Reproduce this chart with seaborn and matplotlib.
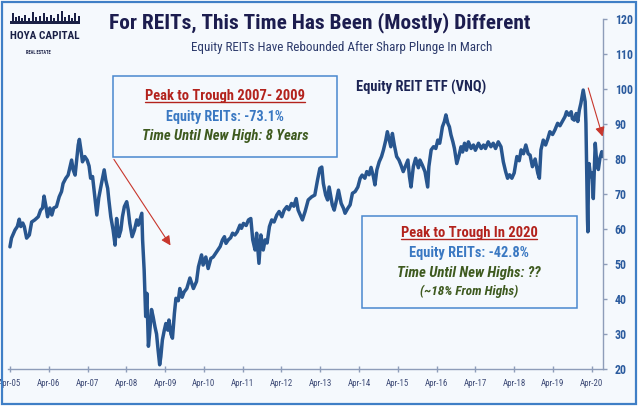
import numpy as np
import pandas as pd
import matplotlib
matplotlib.use("Agg")
import matplotlib.pyplot as plt
import seaborn as sns
from matplotlib import font_manager as fm
from matplotlib.patches import Rectangle
from matplotlib.lines import Line2D

# ---------------- data ----------------
years = [
    2005.25, 2005.29, 2005.38, 2005.44, 2005.49, 2005.53, 2005.58, 2005.62, 2005.68, 2005.75, 2005.81, 2005.89, 2005.98,
    2006.04, 2006.09, 2006.13, 2006.18, 2006.22, 2006.28, 2006.33, 2006.38, 2006.45, 2006.52, 2006.58, 2006.62, 2006.69,
    2006.75, 2006.80, 2006.84, 2006.88, 2006.93, 2006.97,
    2007.01, 2007.04, 2007.08, 2007.12, 2007.18, 2007.24, 2007.29, 2007.33, 2007.38, 2007.42, 2007.49, 2007.54, 2007.61,
    2007.68, 2007.72, 2007.77, 2007.80, 2007.85, 2007.91, 2007.96,
    2008.00, 2008.06, 2008.11, 2008.15, 2008.20, 2008.26, 2008.30, 2008.34, 2008.40, 2008.46, 2008.52, 2008.56, 2008.65,
    2008.67, 2008.71, 2008.73, 2008.75, 2008.78, 2008.82, 2008.85, 2008.90, 2008.94, 2008.99,
    2009.03, 2009.07, 2009.11, 2009.14, 2009.18, 2009.23, 2009.27, 2009.32, 2009.35, 2009.40, 2009.44, 2009.49, 2009.53,
    2009.59, 2009.63, 2009.69, 2009.74, 2009.81, 2009.89, 2009.98,
    2010.06, 2010.11, 2010.19, 2010.23, 2010.30, 2010.36, 2010.43, 2010.49, 2010.58, 2010.67, 2010.73, 2010.78, 2010.82,
    2010.88, 2010.94, 2010.99,
    2011.05, 2011.11, 2011.18, 2011.22, 2011.27, 2011.34, 2011.40, 2011.46, 2011.51, 2011.57, 2011.61, 2011.67, 2011.72,
    2011.78, 2011.83, 2011.88, 2011.94,
    2012.00, 2012.06, 2012.13, 2012.19, 2012.26, 2012.32, 2012.39, 2012.44, 2012.51, 2012.57, 2012.63, 2012.68, 2012.79,
    2012.86, 2012.94,
    2013.03, 2013.11, 2013.18, 2013.24, 2013.29, 2013.33, 2013.39, 2013.44, 2013.48, 2013.56, 2013.61, 2013.67, 2013.72,
    2013.79, 2013.85, 2013.89, 2013.96,
    2014.02, 2014.08, 2014.15, 2014.22, 2014.28, 2014.33, 2014.40, 2014.45, 2014.51, 2014.56, 2014.62, 2014.66, 2014.71,
    2014.77, 2014.83, 2014.88, 2014.94, 2014.98,
    2015.02, 2015.07, 2015.11, 2015.16, 2015.22, 2015.28, 2015.33, 2015.39, 2015.44, 2015.51, 2015.55, 2015.59, 2015.65,
    2015.71, 2015.78, 2015.82, 2015.88, 2015.95,
    2016.02, 2016.05, 2016.11, 2016.17, 2016.23, 2016.28, 2016.33, 2016.36, 2016.40, 2016.45, 2016.49, 2016.54, 2016.58,
    2016.62, 2016.67, 2016.71, 2016.77, 2016.83, 2016.88, 2016.92, 2016.97,
    2017.02, 2017.07, 2017.14, 2017.20, 2017.25, 2017.33, 2017.40, 2017.46, 2017.51, 2017.58, 2017.65, 2017.71, 2017.77,
    2017.84, 2017.91, 2017.97,
    2018.03, 2018.08, 2018.13, 2018.19, 2018.25, 2018.32, 2018.38, 2018.43, 2018.49, 2018.55, 2018.61, 2018.66, 2018.72,
    2018.79, 2018.86, 2018.90, 2018.94,
    2019.00, 2019.06, 2019.12, 2019.17, 2019.24, 2019.30, 2019.37, 2019.43, 2019.49, 2019.56, 2019.60, 2019.66, 2019.72,
    2019.75, 2019.80, 2019.85, 2019.89, 2019.93, 2019.97,
    2020.03, 2020.08, 2020.10, 2020.12, 2020.14, 2020.15, 2020.16, 2020.18, 2020.22, 2020.26, 2020.29, 2020.34, 2020.38,
    2020.42, 2020.46, 2020.51, 2020.53,
]
vnq = [
    54.9, 57.4, 59.7, 60.7, 62.8, 60.7, 61.7, 60.7, 57.4, 58.3, 62.0, 62.6, 63.5,
    65.4, 66.0, 69.4, 66.4, 63.5, 66.0, 64.0, 66.0, 66.4, 69.2, 70.7, 73.0, 74.5,
    75.4, 77.8, 79.7, 76.9, 75.4, 79.7,
    84.0, 85.6, 82.6, 79.2, 80.7, 79.7, 78.0, 74.5, 75.0, 71.1, 64.0, 68.9, 73.0,
    76.9, 74.0, 71.6, 68.3, 63.5, 59.7, 55.4,
    63.0, 57.8, 59.7, 63.5, 66.4, 67.8, 65.4, 61.6, 57.8, 59.7, 62.6, 61.1, 64.5,
    56.9, 48.3, 41.6, 35.0, 41.6, 26.5, 30.0, 37.0, 35.0, 32.0,
    30.0, 25.4, 21.2, 23.5, 28.3, 31.1, 33.0, 31.1, 34.0, 30.0, 28.8, 35.9, 40.2,
    39.5, 43.0, 40.5, 42.0, 43.0, 46.0, 43.0,
    45.0, 49.2, 52.6, 49.7, 52.0, 48.7, 51.6, 52.0, 53.5, 55.0, 56.9, 57.8, 55.9,
    56.9, 57.5, 58.8,
    58.3, 59.2, 61.1, 60.2, 61.6, 61.0, 62.6, 63.0, 56.9, 54.0, 58.8, 50.2, 58.3,
    54.0, 56.9, 56.0, 60.7,
    62.6, 62.0, 64.0, 65.0, 63.5, 65.4, 66.4, 65.5, 67.3, 66.5, 68.7, 65.4, 62.6,
    65.0, 68.3,
    69.2, 69.7, 74.0, 77.3, 77.7, 73.0, 69.7, 68.3, 72.0, 66.9, 65.4, 68.3, 71.1,
    67.3, 65.9, 64.5, 65.9,
    66.9, 70.2, 70.7, 72.0, 74.5, 75.4, 74.5, 76.4, 75.5, 77.6, 75.0, 72.6, 76.9,
    79.2, 80.7, 82.6, 85.4, 87.8,
    85.9, 83.5, 87.3, 84.0, 80.7, 79.7, 78.3, 76.4, 77.8, 79.7, 75.0, 72.0, 77.8,
    80.2, 77.5, 79.7, 78.3, 76.4,
    72.0, 77.8, 82.6, 83.5, 83.0, 85.4, 84.5, 86.4, 89.2, 90.7, 92.6, 90.2, 89.2,
    86.9, 84.9, 83.0, 78.7, 81.1, 83.5, 82.0, 84.5,
    82.5, 84.9, 83.0, 84.0, 82.5, 84.5, 83.0, 84.0, 83.0, 84.9, 83.5, 84.5, 83.0,
    84.9, 83.5, 79.2,
    76.4, 74.5, 75.5, 74.5, 76.0, 80.7, 79.5, 82.6, 81.5, 84.0, 81.5, 81.1, 77.8,
    80.0, 75.9, 74.5, 82.6,
    85.4, 84.0, 85.9, 87.8, 87.0, 88.3, 90.2, 89.5, 90.7, 92.1, 93.5, 92.5, 93.5,
    91.5, 91.1, 93.0, 90.7, 94.0, 95.9,
    99.7, 96.4, 90.2, 76.9, 62.6, 59.2, 69.2, 78.7, 75.0, 76.0, 68.7, 84.5, 78.7,
    77.0, 80.2, 82.1, 80.7,
]
tick_years = list(range(2005, 2021))
tick_labels = ["Apr-%02d" % (y % 100) for y in tick_years]
y_ticks = [20, 30, 40, 50, 60, 70, 80, 90, 100, 110, 120]

title = "For REITs, This Time Has Been (Mostly) Different"
subtitle = "Equity REITs Have Rebounded After Sharp Plunge In March"
series_label = "Equity REIT ETF (VNQ)"
box1_lines = ["Peak to Trough 2007- 2009", "Equity REITs: -73.1%", "Time Until New High: 8 Years"]
box2_lines = ["Peak to Trough In 2020", "Equity REITs: -42.8%", "Time Until New Highs: ??", "(~18% From Highs)"]

# ---------------- style ----------------
sns.set_theme(style="white")


def pick_condensed():
    names = {}
    for f in fm.fontManager.ttflist:
        names.setdefault(f.name, set()).add(str(f.stretch))
    for n in ["Liberation Sans Narrow", "Roboto Condensed", "Open Sans Condensed",
              "Noto Sans Condensed", "DejaVu Sans Condensed"]:
        if n in names:
            return n, "normal"
    cond = {"condensed", "semi-condensed", "extra-condensed", "75", "87.5", "62.5"}
    for n in ["Noto Sans", "Open Sans", "Roboto", "DejaVu Sans"]:
        if names.get(n, set()) & cond:
            return n, "condensed"
    return "DejaVu Sans", "normal"


COND, STRETCH = pick_condensed()
FAM = [COND, "DejaVu Sans"]
plt.rcParams["font.family"] = FAM

BG = "#f5f9fd"
FRAME = "#3f7fc6"
LINE = "#28568f"
NAVY = "#1c1d4f"
RED = "#b3231d"
BLUE = "#3a78c2"
GREEN = "#3e5a1f"
AXC = "#8e9db9"

W, H = 640, 408
fig = plt.figure(figsize=(6.4, 4.08), dpi=100, facecolor="white")
renderer = fig.canvas.get_renderer()


def fx(x):
    return x / W


def fy(y):
    return 1 - y / H


# background panel
fig.add_artist(Rectangle((fx(2), fy(404)), fx(636) - fx(2), fy(2) - fy(404),
                         transform=fig.transFigure, facecolor=BG, edgecolor="none", zorder=0))

ax = fig.add_axes([fx(8), fy(369), fx(603) - fx(8), fy(19) - fy(369)])
ax.set_facecolor("none")
ax.set_zorder(2)

df = pd.DataFrame({"year": years, "VNQ": vnq})
sns.lineplot(data=df, x="year", y="VNQ", ax=ax, color=LINE, linewidth=2.5,
             estimator=None, sort=False)

ax.set_xlim(2005.2, 2020.54)
ax.set_ylim(20, 120)
ax.set_xlabel("")
ax.set_ylabel("")
ax.grid(False)
for s in ["left", "top"]:
    ax.spines[s].set_visible(False)
for s in ["bottom", "right"]:
    ax.spines[s].set_color(AXC)
    ax.spines[s].set_linewidth(1.0)

ax.set_xticks([y + 0.25 for y in tick_years])
ax.set_xticklabels(tick_labels)
ax.yaxis.tick_right()
ax.set_yticks(y_ticks)
ax.set_yticklabels([str(v) for v in y_ticks])


def fit_size(s, width_px, weight="normal", style="normal", fs0=10):
    t = fig.text(0, 0, s, fontsize=fs0, fontweight=weight, fontstyle=style,
                 family=FAM, fontstretch=STRETCH)
    w = t.get_window_extent(renderer).width
    t.remove()
    return fs0 * width_px / w


ysz = fit_size("100", 18, weight="bold")
xsz = fit_size("Apr-06", 23)

ax.tick_params(axis="y", which="both", direction="out", length=3, width=1.0, color=AXC,
               pad=5.5, labelcolor="#2b5b9e", labelsize=ysz, left=False, right=True)
ax.tick_params(axis="x", which="both", direction="inout", length=4.5, width=1.0, color=AXC,
               pad=5, labelcolor="#3d4a76", labelsize=xsz, bottom=True)
for lbl in ax.get_yticklabels():
    lbl.set_fontweight("bold")
    lbl.set_fontstretch(STRETCH)
for lbl in ax.get_xticklabels():
    lbl.set_fontstretch(STRETCH)


def fit_text(cx, cy, s, width, color, weight="bold", style="normal", z=6):
    fs = fit_size(s, width, weight=weight, style=style)
    t = fig.text(fx(cx), fy(cy), s, ha="center", va="center", color=color, fontsize=fs,
                 fontweight=weight, fontstyle=style, family=FAM, fontstretch=STRETCH, zorder=z)
    return t


def underline(t, color):
    bb = t.get_window_extent(renderer)
    y = bb.y0 + 1.0
    fig.add_artist(Line2D([bb.x0 / W, bb.x1 / W], [y / H, y / H], transform=fig.transFigure,
                          color=color, lw=1.0, zorder=6))


# titles
fit_text(320, 23, title, 422, NAVY, weight="bold")
fit_text(342, 47, subtitle, 300, "#2c3a6b", weight="normal")

# logo
LOGO = "#1a2046"
fig.add_artist(Rectangle((fx(10), fy(23.5)), fx(80) - fx(10), fy(21) - fy(23.5),
                         transform=fig.transFigure, facecolor=LOGO, edgecolor="none", zorder=5))
for bx, top in [(12, 13), (15, 17), (18, 16), (21, 18), (24, 15), (28, 18), (32, 12), (35, 17),
                (39, 16), (43, 13), (46, 17), (50, 15), (53, 18), (57, 14), (61, 11), (64, 17),
                (68, 15), (71, 18), (74, 13), (78, 16)]:
    fig.add_artist(Rectangle((fx(bx), fy(21)), fx(1.6), fy(top) - fy(21),
                             transform=fig.transFigure, facecolor=LOGO, edgecolor="none", zorder=5))
fit_text(45, 36, "HOYA CAPITAL", 70, LOGO, weight="bold")
fit_text(38.5, 52, "REAL ESTATE", 25, LOGO, weight="bold")

# series label
fit_text(421, 87, series_label, 130, "#1c2454", weight="bold")

# box 1
fig.add_artist(Rectangle((fx(113), fy(157)), fx(337) - fx(113), fy(76) - fy(157),
                         transform=fig.transFigure, facecolor=BG, edgecolor="#4a88cf",
                         lw=1.1, zorder=4))
t = fit_text(225, 96, box1_lines[0], 159, RED)
underline(t, RED)
fit_text(225, 117, box1_lines[1], 119, BLUE)
fit_text(225, 136, box1_lines[2], 166, GREEN, style="italic")

# box 2
fig.add_artist(Rectangle((fx(362), fy(308)), fx(577) - fx(362), fy(216) - fy(308),
                         transform=fig.transFigure, facecolor=BG, edgecolor="#4a88cf",
                         lw=1.1, zorder=4))
t = fit_text(469, 233, box2_lines[0], 137, RED)
underline(t, RED)
fit_text(469, 253, box2_lines[1], 121, BLUE)
fit_text(469, 272.5, box2_lines[2], 143, GREEN, style="italic")
fit_text(469, 291.5, box2_lines[3], 98, GREEN, style="italic")

# arrows
arrow_kw = dict(arrowstyle="-|>,head_length=0.8,head_width=0.4", color="#c8372d", lw=0.8,
                mutation_scale=7, shrinkA=0, shrinkB=0)
ax.annotate("", xy=(2009.39, 55.3), xytext=(2007.93, 79.9), arrowprops=arrow_kw,
            annotation_clip=False)
ax.annotate("", xy=(2020.53, 86.4), xytext=(2020.16, 100.3), arrowprops=arrow_kw,
            annotation_clip=False)

# frame on top
fig.add_artist(Rectangle((fx(2), fy(404)), fx(636) - fx(2), fy(2) - fy(404),
                         transform=fig.transFigure, facecolor="none", edgecolor=FRAME,
                         lw=1.6, zorder=20))

fig.savefig("out.png", dpi=100, facecolor="white")
